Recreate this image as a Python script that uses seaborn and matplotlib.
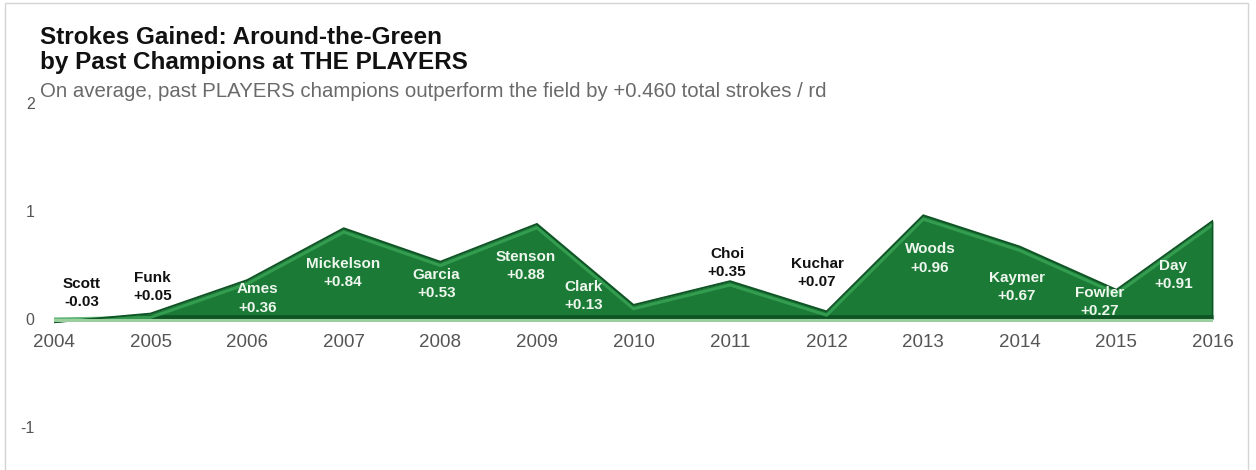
import numpy as np
import pandas as pd
import matplotlib
matplotlib.use("Agg")
import matplotlib.pyplot as plt
import matplotlib.patches as mpatches
import seaborn as sns

# --- DATA ---
years = [2004, 2005, 2006, 2007, 2008, 2009, 2010, 2011, 2012, 2013, 2014, 2015, 2016]
champions = ["Scott", "Funk", "Ames", "Mickelson", "Garcia", "Stenson", "Clark",
             "Choi", "Kuchar", "Woods", "Kaymer", "Fowler", "Day"]
sg_around_green = [-0.03, 0.05, 0.36, 0.84, 0.53, 0.88, 0.13, 0.35, 0.07, 0.96, 0.67, 0.27, 0.91]

# label anchor points (data coords), placed by hand like the original
label_x = [2004.29, 2005.02, 2006.11, 2006.99, 2007.96, 2008.88, 2009.48,
           2010.97, 2011.90, 2013.07, 2013.97, 2014.83, 2015.59]
label_y = [0.24, 0.30, 0.19, 0.43, 0.32, 0.49, 0.21, 0.52, 0.43, 0.56, 0.30, 0.16, 0.41]
label_inside = [False, False, True, True, True, True, True, False, False, True, True, True, True]

df = pd.DataFrame({"year": years, "champ": champions, "sg": sg_around_green})

# --- STYLE ---
sns.set_style("white")
plt.rcParams["font.family"] = ["Liberation Sans", "DejaVu Sans"]

fig = plt.figure(figsize=(12.56, 4.70), dpi=100)
ax = fig.add_axes([54 / 1256, 1 - 427 / 470, (1213 - 54) / 1256, (427 - 103) / 470])

green = "#1c7a37"
dark = "#0e5424"
light = "#3aa656"

# main area
ax.fill_between(df["year"], 0, df["sg"], color=green, linewidth=0, zorder=2)
# bevel: darker band on the bottom and highlight just under the top edge
ax.fill_between(df["year"], 0, np.minimum(df["sg"], 0.04), color=dark, linewidth=0, zorder=3)
ax.plot(df["year"], np.maximum(df["sg"] - 0.035, 0.0), color=light, lw=2.2, alpha=0.8,
        zorder=3, solid_joinstyle="round")
sns.lineplot(data=df, x="year", y="sg", color=dark, lw=1.4, ax=ax, zorder=4)
ax.plot([2016, 2016], [0, sg_around_green[-1]], color=dark, lw=2.5, zorder=4)
ax.plot([2004, 2016], [-0.01, -0.01], color="#9ccf9f", lw=2.2, zorder=5)

for i in range(len(champions)):
    v = sg_around_green[i]
    col = "#eef7ee" if label_inside[i] else "#111111"
    ax.annotate(champions[i], (label_x[i], label_y[i]), xytext=(0, 6.5),
                textcoords="offset points", ha="center", va="center",
                fontsize=11, fontweight="bold", color=col, zorder=6)
    ax.annotate(f"{v:+.2f}", (label_x[i], label_y[i]), xytext=(0, -6.5),
                textcoords="offset points", ha="center", va="center",
                fontsize=11, fontweight="bold", color=col, zorder=6)

ax.set_xlim(2004, 2016)
ax.set_ylim(-1, 2)
ax.set_xticks(years)
ax.set_xticklabels([str(y) for y in years])
ax.set_yticks([-1, 0, 1, 2])
ax.set_yticklabels(["-1", "0", "1", "2"])
ax.tick_params(axis="x", labelsize=13.5, colors="#555555", length=0, pad=11)
ax.tick_params(axis="y", labelsize=11.5, colors="#555555", length=0, pad=14)
ax.set_xlabel("")
ax.set_ylabel("")
# year labels sit right under the zero line
ax.spines["bottom"].set_position(("data", 0))
sns.despine(ax=ax, left=True, bottom=True)

# titles
fig.text(40 / 1256, 1 - 44 / 470, "Strokes Gained: Around-the-Green",
         fontsize=17.5, fontweight="bold", color="#111111", va="baseline")
fig.text(40 / 1256, 1 - 69 / 470, "by Past Champions at THE PLAYERS",
         fontsize=17.5, fontweight="bold", color="#111111", va="baseline")
fig.text(40 / 1256, 1 - 97 / 470,
         "On average, past PLAYERS champions outperform the field by +0.460 total strokes / rd",
         fontsize=14.7, color="#6a6a6a", va="baseline")

# light frame
fig.patches.append(mpatches.Rectangle((5 / 1256, -0.05), (1248 - 5) / 1256, 1.05 - 3 / 470,
                                      transform=fig.transFigure, fill=False,
                                      edgecolor="#d4d4d4", lw=1))

fig.savefig("out.png", dpi=100)
